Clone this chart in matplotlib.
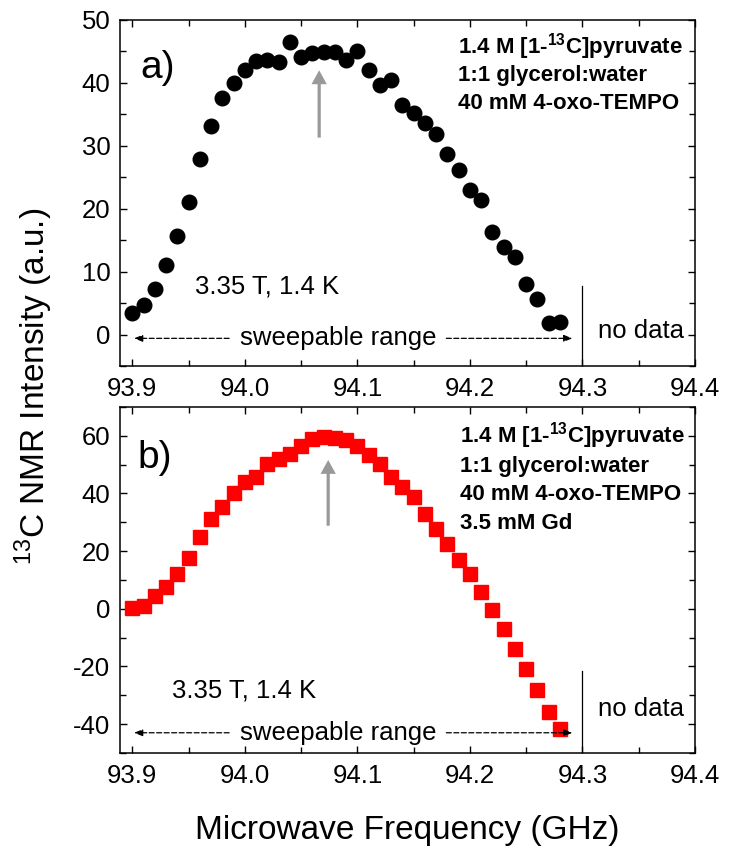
import numpy as np
import matplotlib
matplotlib.use('Agg')
import matplotlib.pyplot as plt
from matplotlib.ticker import MultipleLocator

plt.rcParams['font.family'] = ['Liberation Sans', 'DejaVu Sans']
plt.rcParams['axes.unicode_minus'] = False
plt.rcParams['mathtext.fontset'] = 'custom'
plt.rcParams['mathtext.rm'] = 'Liberation Sans'
plt.rcParams['mathtext.bf'] = 'Liberation Sans:bold'

# frequency sweep, GHz (same grid for both samples)
freq = np.round(np.arange(93.90, 94.285, 0.01), 2)

# panel a: 40 mM 4-oxo-TEMPO
intensity_a = [3.4, 4.7, 7.2, 11.1, 15.6, 21.0, 27.9, 33.2, 37.6, 40.0,
               42.1, 43.5, 43.7, 43.3, 46.5, 44.1, 44.8, 44.9, 44.9, 43.7,
               45.0, 42.0, 39.7, 40.4, 36.5, 35.2, 33.6, 31.9, 28.7, 26.1,
               23.0, 21.4, 16.3, 13.9, 12.4, 8.0, 5.6, 1.8, 2.0]

# panel b: 40 mM 4-oxo-TEMPO + 3.5 mM Gd
intensity_b = [0.3, 0.9, 4.6, 7.5, 12.1, 17.5, 24.8, 31.1, 35.2, 40.0,
               44.0, 45.8, 50.2, 51.9, 53.6, 56.5, 58.8, 59.6, 59.3, 58.5,
               56.5, 53.4, 50.2, 45.8, 42.3, 38.6, 32.9, 27.7, 22.5, 17.0,
               11.9, 5.7, -0.3, -7.1, -14.1, -20.8, -28.0, -35.8, -41.8]

sample_a = ['1.4 M [1-$^{\\mathbf{13}}$C]pyruvate', '1:1 glycerol:water',
            '40 mM 4-oxo-TEMPO']
sample_b = sample_a + ['3.5 mM Gd']

# optimum frequency arrows (x, tail, tip)
arrow_a = (94.066, 31.3, 42.0)
arrow_b = (94.074, 28.8, 51.6)

fig = plt.figure(figsize=(7.29, 8.57), dpi=100)
ax_a = fig.add_axes([0.1646, 0.5729, 0.7888, 0.4038])
ax_b = fig.add_axes([0.1646, 0.1214, 0.7888, 0.4038])


def style_axes(ax, ymaj, ymin):
    ax.set_xlim(93.889, 94.4)
    ax.xaxis.set_major_locator(MultipleLocator(0.1))
    ax.xaxis.set_minor_locator(MultipleLocator(0.05))
    ax.yaxis.set_major_locator(MultipleLocator(ymaj))
    ax.yaxis.set_minor_locator(MultipleLocator(ymin))
    ax.tick_params(which='both', direction='in', top=True, right=True, width=1.0)
    ax.tick_params(which='major', length=5)
    ax.tick_params(which='minor', length=4)
    ax.tick_params(axis='x', labelsize=18.5, pad=8)
    ax.tick_params(axis='y', labelsize=18.5, pad=7)
    ax.xaxis.set_major_formatter(plt.FuncFormatter(lambda v, p: f'{v:.1f}'))
    for s in ax.spines.values():
        s.set_linewidth(1.1)


def sweep_marks(ax, y):
    kw = dict(arrowstyle='-|>,head_length=0.5,head_width=0.2', color='black',
              lw=0.9, linestyle=(0, (4, 2)), shrinkA=0, shrinkB=0)
    ax.annotate('', xy=(93.9015, y), xytext=(93.986, y), arrowprops=kw)
    ax.annotate('', xy=(94.291, y), xytext=(94.179, y), arrowprops=kw)


# ---- panel a ----
ax_a.plot(freq, intensity_a, 'o', color='black', markersize=10.5, linestyle='none')
style_axes(ax_a, 10, 5)
ax_a.set_ylim(-5, 50)
ax_a.annotate('', xy=(arrow_a[0], arrow_a[2]), xytext=(arrow_a[0], arrow_a[1]),
              arrowprops=dict(width=2.3, headwidth=11, headlength=10, shrink=0,
                              color='#999999', lw=0))
ax_a.text(0.036, 0.86, 'a)', transform=ax_a.transAxes, fontsize=28, va='center')
for txt, yy in zip(sample_a, [0.9017, 0.8237, 0.7428]):
    ax_a.text(0.588, yy, txt, transform=ax_a.transAxes, fontsize=16,
              fontweight='bold', va='baseline')
ax_a.text(0.130, 0.210, '3.35 T, 1.4 K', transform=ax_a.transAxes, fontsize=18.5,
          va='baseline')
ax_a.text(0.379, 0.061, 'sweepable range', transform=ax_a.transAxes, fontsize=18.5,
          va='baseline', ha='center')
sweep_marks(ax_a, -0.6)
ax_a.axvline(94.3, ymin=0, ymax=0.231, color='black', lw=0.9)
ax_a.text(0.831, 0.081, 'no data', transform=ax_a.transAxes, fontsize=18.5,
          va='baseline')

# ---- panel b ----
ax_b.plot(freq, intensity_b, 's', color='#ff0000', markersize=9.5, linestyle='none')
style_axes(ax_b, 20, 10)
ax_b.set_ylim(-50, 70)
ax_b.annotate('', xy=(arrow_b[0], arrow_b[2]), xytext=(arrow_b[0], arrow_b[1]),
              arrowprops=dict(width=2.3, headwidth=11, headlength=10, shrink=0,
                              color='#999999', lw=0))
ax_b.text(0.03, 0.853, 'b)', transform=ax_b.transAxes, fontsize=28, va='center')
for txt, yy in zip(sample_b, [0.896, 0.812, 0.730, 0.646]):
    ax_b.text(0.591, yy, txt, transform=ax_b.transAxes, fontsize=16,
              fontweight='bold', va='baseline')
ax_b.text(0.090, 0.159, '3.35 T, 1.4 K', transform=ax_b.transAxes, fontsize=18.5,
          va='baseline')
ax_b.text(0.379, 0.0376, 'sweepable range', transform=ax_b.transAxes, fontsize=18.5,
          va='baseline', ha='center')
sweep_marks(ax_b, -43.0)
ax_b.axvline(94.3, ymin=0, ymax=0.238, color='black', lw=0.9)
ax_b.text(0.831, 0.107, 'no data', transform=ax_b.transAxes, fontsize=18.5,
          va='baseline')

fig.text(0.5590, 1 - 830 / 857, 'Microwave Frequency (GHz)', fontsize=24,
         ha='center', va='center')
fig.text(34 / 729, 1 - 386.5 / 857, '$^{13}$C NMR Intensity (a.u.)', fontsize=24,
         rotation=90, ha='center', va='center')

fig.savefig('out.png', dpi=100)
